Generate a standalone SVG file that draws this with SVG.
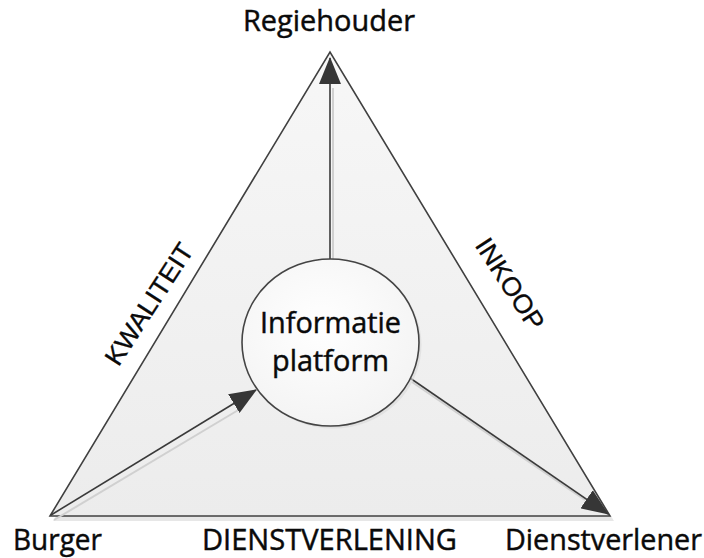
<svg xmlns="http://www.w3.org/2000/svg" width="704" height="558" viewBox="0 0 704 558">
  <style>
    .lbl { font-family: "Open Sans", "Liberation Sans", sans-serif; font-size: 29px; fill: #0a0a0a; stroke: #0a0a0a; stroke-width: 0.45px; }
    .side { font-family: "Liberation Sans", Arial, sans-serif; font-size: 26px; fill: #0a0a0a; stroke: #0a0a0a; stroke-width: 0.3px; }
    .conn { stroke: #3a3a3a; stroke-width: 1.6; fill: none; }
    .connShadow { stroke: #d0d0d0; stroke-width: 2; fill: none; }
  </style>
  <defs>
    <linearGradient id="triFill" x1="0" y1="0" x2="0" y2="1">
      <stop offset="0" stop-color="#f7f7f7"/>
      <stop offset="1" stop-color="#ececec"/>
    </linearGradient>
    <radialGradient id="circFill" cx="0.45" cy="0.4" r="0.65">
      <stop offset="0" stop-color="#ffffff"/>
      <stop offset="1" stop-color="#f3f3f3"/>
    </radialGradient>
    <marker id="arrow" viewBox="0 0 27 22" refX="26" refY="11" markerWidth="27" markerHeight="22" markerUnits="userSpaceOnUse" orient="auto">
      <path d="M0,0 L27,11 L0,22 z" fill="#363636"/>
    </marker>
  </defs>
  <rect width="704" height="558" fill="#ffffff"/>

  <g id="triangle">
    <polygon points="53,521 333,57 614,521" fill="#dddddd" opacity="0.7"/>
    <polygon points="50,516 330,52 610,516" fill="url(#triFill)" stroke="#404040" stroke-width="1.6" stroke-linejoin="miter"/>
  </g>

  <g id="connectors">
    <line class="connShadow" x1="333" y1="262" x2="333" y2="88"/>
    <line class="connShadow" x1="54" y1="520" x2="240" y2="409"/>
    <line class="connShadow" x1="412" y1="382" x2="585" y2="500"/>
    <line class="conn" x1="330" y1="259" x2="330" y2="58" marker-end="url(#arrow)"/>
    <line class="conn" x1="51" y1="515" x2="256" y2="390" marker-end="url(#arrow)"/>
    <line class="conn" x1="410" y1="378" x2="608" y2="514" marker-end="url(#arrow)"/>
  </g>

  <g id="platform">
    <ellipse cx="333" cy="345" rx="88.5" ry="83.5" fill="#d8d8d8" opacity="0.6"/>
    <ellipse cx="330.5" cy="342.5" rx="88.5" ry="83.5" fill="url(#circFill)" stroke="#444444" stroke-width="1.6"/>
    <text class="lbl" x="330.5" y="333" text-anchor="middle" textLength="141" lengthAdjust="spacingAndGlyphs">Informatie</text>
    <text class="lbl" x="330.5" y="371" text-anchor="middle" textLength="117" lengthAdjust="spacingAndGlyphs">platform</text>
  </g>

  <g id="regiehouder">
    <text class="lbl" x="329" y="31" text-anchor="middle" textLength="172" lengthAdjust="spacingAndGlyphs">Regiehouder</text>
  </g>
  <g id="burger">
    <text class="lbl" x="13" y="550" textLength="89" lengthAdjust="spacingAndGlyphs">Burger</text>
  </g>
  <g id="dienstverlener">
    <text class="lbl" x="505" y="550" textLength="197" lengthAdjust="spacingAndGlyphs">Dienstverlener</text>
  </g>

  <g id="edge-labels">
    <text class="lbl" x="202" y="550" textLength="255" lengthAdjust="spacingAndGlyphs">DIENSTVERLENING</text>
    <text class="side" transform="translate(149,304) rotate(-57)" x="0" y="9" text-anchor="middle" textLength="140" lengthAdjust="spacingAndGlyphs">KWALITEIT</text>
    <text class="side" transform="translate(510,284) rotate(57)" x="0" y="9" text-anchor="middle" textLength="104" lengthAdjust="spacingAndGlyphs">INKOOP</text>
  </g>
</svg>
